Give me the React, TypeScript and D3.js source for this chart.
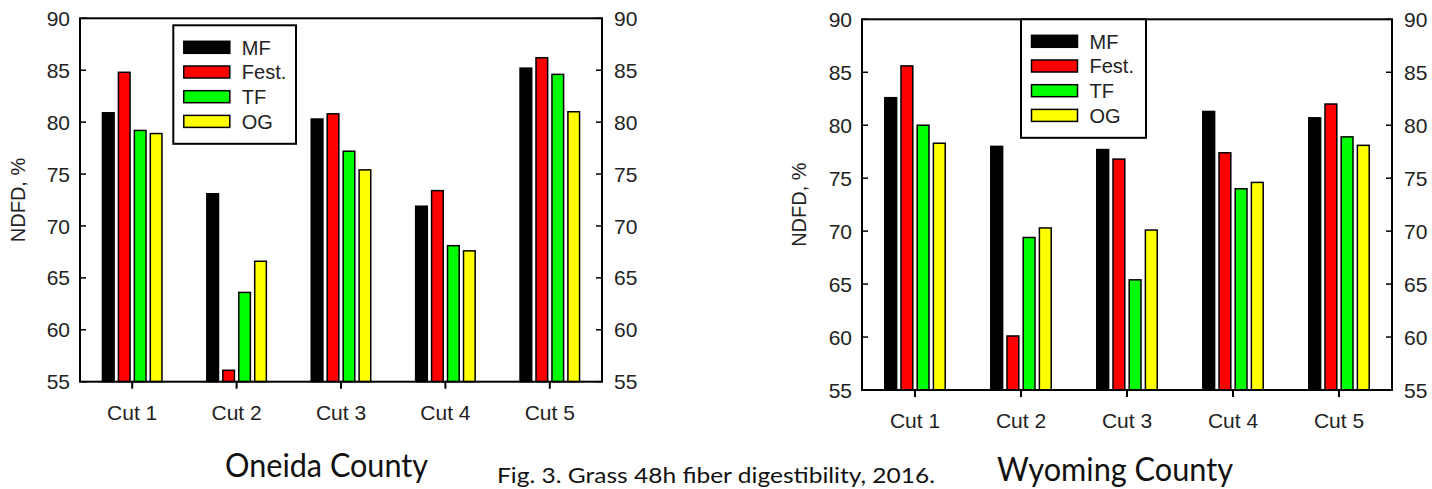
import React from "react";
import * as d3 from "d3";

const cuts = ["Cut 1", "Cut 2", "Cut 3", "Cut 4", "Cut 5"];
const series = ["MF", "Fest.", "TF", "OG"];
const colors = ["#000000", "#ff0000", "#00ff00", "#ffff00"];
const yTicks = [55, 60, 65, 70, 75, 80, 85, 90];

// Oneida County
const oneidaMF = [80.9, 73.1, 80.3, 71.9, 85.2];
const oneidaFest = [84.8, 56.1, 80.8, 73.4, 86.2];
const oneidaTF = [79.2, 63.6, 77.2, 68.1, 84.6];
const oneidaOG = [78.9, 66.6, 75.4, 67.6, 81.0];

// Wyoming County
const wyomingMF = [82.6, 78.0, 77.7, 81.3, 80.7];
const wyomingFest = [85.6, 60.1, 76.8, 77.4, 82.0];
const wyomingTF = [80.0, 69.4, 65.4, 74.0, 78.9];
const wyomingOG = [78.3, 70.3, 70.1, 74.6, 78.1];

const tickFont = "'Liberation Sans', Arial, sans-serif";
const captionFont = "Lato, 'Open Sans', sans-serif";
const textColor = "#222";

type PanelProps = {
  x0: number;
  x1: number;
  y0: number;
  y1: number;
  values: number[][];
  legendX: number;
  legendY: number;
  legendW: number;
  labelX: number;
};

const Panel = ({ x0, x1, y0, y1, values, legendX, legendY, legendW, labelX }: PanelProps) => {
  const x = d3.scaleBand().domain(cuts).range([x0, x1]).padding(0);
  const y = d3.scaleLinear().domain([55, 90]).range([y1, y0]);
  const groupW = x.bandwidth() * 0.57;
  const xs = d3
    .scaleBand()
    .domain(series)
    .range([-groupW / 2, groupW / 2])
    .paddingInner(0.27);

  return (
    <g>
      {/* bars */}
      {cuts.map((c, ci) => (
        <g key={c} transform={`translate(${x(c)! + x.bandwidth() / 2},0)`}>
          {series.map((s, si) => {
            const v = values[si][ci];
            return (
              <rect
                key={s}
                x={xs(s)}
                y={y(v)}
                width={xs.bandwidth()}
                height={y(55) - y(v)}
                fill={colors[si]}
                stroke="#000"
                strokeWidth={1.5}
              />
            );
          })}
        </g>
      ))}

      {/* frame */}
      <rect x={x0} y={y0} width={x1 - x0} height={y1 - y0} fill="none" stroke="#000" strokeWidth={2} />

      {/* y ticks, both sides, inward */}
      {yTicks.map((t) => (
        <g key={t}>
          <line x1={x0} x2={x0 + 6} y1={y(t)} y2={y(t)} stroke="#000" strokeWidth={1.5} />
          <line x1={x1} x2={x1 - 6} y1={y(t)} y2={y(t)} stroke="#000" strokeWidth={1.5} />
          <text
            x={x0 - 10}
            y={y(t)}
            dy="0.36em"
            textAnchor="end"
            fontFamily={tickFont}
            fontSize={21}
            fill={textColor}
          >
            {t}
          </text>
          <text
            x={x1 + 12}
            y={y(t)}
            dy="0.36em"
            textAnchor="start"
            fontFamily={tickFont}
            fontSize={21}
            fill={textColor}
          >
            {t}
          </text>
        </g>
      ))}

      {/* x ticks */}
      {cuts.map((c) => {
        const cx = x(c)! + x.bandwidth() / 2;
        return (
          <g key={c}>
            <line x1={cx} x2={cx} y1={y1} y2={y1 + 7} stroke="#000" strokeWidth={2} />
            <text
              x={cx}
              y={y1 + 38}
              textAnchor="middle"
              fontFamily={tickFont}
              fontSize={21}
              fill={textColor}
            >
              {c}
            </text>
          </g>
        );
      })}

      {/* y label */}
      <text
        transform={`translate(${labelX},${(y0 + y1) / 2}) rotate(-90)`}
        textAnchor="middle"
        fontFamily={tickFont}
        fontSize={20}
        fill={textColor}
      >
        NDFD, %
      </text>

      {/* legend */}
      <g transform={`translate(${legendX},${legendY})`}>
        <rect x={0} y={0} width={legendW} height={118.5} fill="#fff" stroke="#000" strokeWidth={2} />
        {series.map((s, si) => (
          <g key={s} transform={`translate(0,${22 + si * 24.7})`}>
            <rect
              x={10.5}
              y={-6}
              width={46}
              height={12}
              fill={colors[si]}
              stroke="#000"
              strokeWidth={1.5}
            />
            <text x={68.5} y={0} dy="0.36em" fontFamily={tickFont} fontSize={20} fill={textColor}>
              {s}
            </text>
          </g>
        ))}
      </g>
    </g>
  );
};

export default function App() {
  return (
    <svg
      width={1432}
      height={489}
      style={{ position: "absolute", left: 0, top: 0, background: "#fff" }}
    >
      <rect width={1432} height={489} fill="#fff" />
      <Panel
        x0={80}
        x1={602}
        y0={18.3}
        y1={381.7}
        values={[oneidaMF, oneidaFest, oneidaTF, oneidaOG]}
        legendX={173.3}
        legendY={25.3}
        legendW={122.7}
        labelX={25}
      />
      <Panel
        x0={862}
        x1={1392}
        y0={19.3}
        y1={390}
        values={[wyomingMF, wyomingFest, wyomingTF, wyomingOG]}
        legendX={1021}
        legendY={19.3}
        legendW={125}
        labelX={806}
      />
      <text
        x={225}
        y={477}
        fontFamily={captionFont}
        fontSize={32}
        textLength={203}
        lengthAdjust="spacingAndGlyphs"
        fill="#111"
      >
        Oneida County
      </text>
      <text
        x={497}
        y={483}
        fontFamily={captionFont}
        fontSize={22}
        textLength={438}
        lengthAdjust="spacingAndGlyphs"
        fill="#111"
      >
        Fig. 3. Grass 48h fiber digestibility, 2016.
      </text>
      <text
        x={997}
        y={481}
        fontFamily={captionFont}
        fontSize={32}
        textLength={236}
        lengthAdjust="spacingAndGlyphs"
        fill="#111"
      >
        Wyoming County
      </text>
    </svg>
  );
}
